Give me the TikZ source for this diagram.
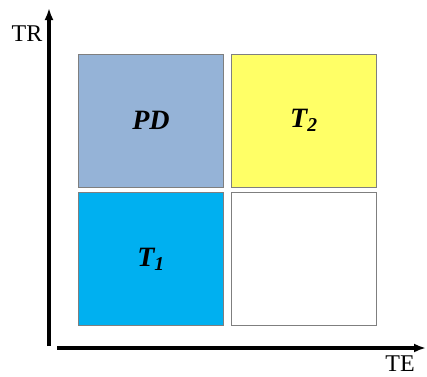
\documentclass[tikz,border=0pt]{standalone}
\usepackage{fontspec}
\setmainfont{Liberation Serif}
\usepackage{tikz}
\usetikzlibrary{arrows.meta,positioning}
\definecolor{ink}{HTML}{000000}
\definecolor{edge}{HTML}{7F7F7F}
\definecolor{steel}{HTML}{95B3D7}
\definecolor{lemon}{HTML}{FFFF66}
\definecolor{cyan}{HTML}{00B0F0}
\tikzset{
  >=Latex,
  every node/.style={text=ink},
  cell/.style={draw=edge,line width=0.9pt,fill=white,minimum width=145pt,minimum height=133pt,inner sep=0pt,font=\fontsize{28}{30}\selectfont\bfseries\itshape},
  pdcell/.style={cell,fill=steel},
  hotcell/.style={cell,fill=lemon},
  coolcell/.style={cell,fill=cyan},
  axis/.style={->,line width=3.2pt,draw=ink,>={Latex[length=12pt,width=9pt]}},
  axlabel/.style={font=\fontsize{24}{28}\selectfont}
}
\begin{document}
\begin{tikzpicture}[x=1pt,y=1pt]
  \useasboundingbox (0,0) rectangle (427,376);
  \node[pdcell] (pd) at (151,255.5) {PD\hspace{14pt}};
  \node[hotcell,right=7pt of pd] (t2) {T\textsubscript{2}\hspace{4pt}};
  \node[coolcell,below=5pt of pd] (t1) {T\textsubscript{1}\hspace{6pt}};
  \node[cell,below=5pt of t2] (empty) {};

  \coordinate (origy) at (49,30);
  \coordinate (topy) at (49,368);
  \coordinate (origx) at (57,28);
  \coordinate (endx) at (426,28);
  \draw[axis] (origy)--(topy);
  \draw[axis] (origx)--(endx);
  \node[axlabel] (tr) at (27,342) {TR};
  \node[axlabel] (te) at (400,12) {TE};
\end{tikzpicture}
\end{document}
